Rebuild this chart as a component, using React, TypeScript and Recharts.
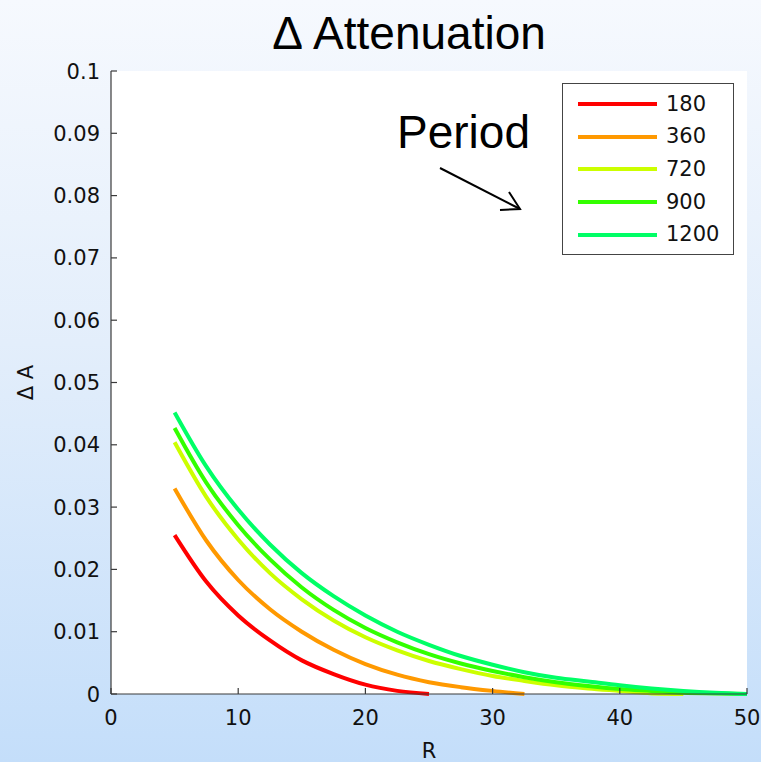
import React from "react";
import { LineChart, Line, XAxis, YAxis, Legend } from "recharts";

// radius values shared by every period
const rValues = [5, 7.5, 10, 12.5, 15, 17.5, 20, 22.5, 25, 27.5, 30, 32.5, 35, 37.5, 40, 42.5, 45, 47.5, 50];

// delta attenuation per period
const da180 = [0.0255, 0.018, 0.0126, 0.0086, 0.0054, 0.0032, 0.0015, 0.0005, 0];
const da360 = [0.033, 0.0246, 0.0183, 0.0136, 0.01, 0.0071, 0.0048, 0.0031, 0.0019, 0.0011, 0.0005, 0];
const da720 = [0.0404, 0.0316, 0.0248, 0.0194, 0.0152, 0.0118, 0.0091, 0.007, 0.0053, 0.004, 0.0029, 0.0021, 0.0014, 0.0009, 0.0005, 0.0001, 0];
const da900 = [0.0427, 0.0339, 0.0271, 0.0216, 0.0171, 0.0135, 0.0106, 0.0083, 0.0064, 0.0049, 0.0037, 0.0027, 0.0019, 0.0013, 0.0008, 0.0005, 0.0002, 0.0001, 0];
const da1200 = [0.0452, 0.0365, 0.0296, 0.024, 0.0194, 0.0157, 0.0126, 0.01, 0.0079, 0.0061, 0.0047, 0.0035, 0.0026, 0.002, 0.0014, 0.0009, 0.0005, 0.0002, 0];

const periods = ["180", "360", "720", "900", "1200"];
const COLORS = ["#ff0000", "#ff9900", "#ccff00", "#33ff00", "#00ff66"];
const seriesValues = [da180, da360, da720, da900, da1200];

const xTicks = [0, 10, 20, 30, 40, 50];
const yTicks = [0, 0.01, 0.02, 0.03, 0.04, 0.05, 0.06, 0.07, 0.08, 0.09, 0.1];

const series = periods.map((name, i) => ({
    name,
    color: COLORS[i],
    data: seriesValues[i].map((a, j) => ({ r: rValues[j], a })),
}));

const FONT = "DejaVu Sans";
const INK = "#3a3a3a";
const TL = 6; // tick length, pointing into the plot
const frame = { stroke: INK, strokeWidth: 1.2 };

// ticks: labels outside, short marks inside the box
function LeftTick({ x, y, payload }: any) {
    return (
        <g>
            <text x={x} y={y} dy="0.36em" textAnchor="end" fontFamily={FONT} fontSize={21} fill="#111">
                {payload.value}
            </text>
            <line x1={x + 11} x2={x + 11 + TL} y1={y} y2={y} stroke={INK} strokeWidth={1.2} />
        </g>
    );
}

function BottomTick({ x, y, payload }: any) {
    return (
        <g>
            <text x={x} y={y} dy="0.76em" textAnchor="middle" fontFamily={FONT} fontSize={21} fill="#111">
                {payload.value}
            </text>
            <line x1={x} x2={x} y1={y - 15} y2={y - 15 - TL} stroke={INK} strokeWidth={1.2} />
        </g>
    );
}

function TopTick({ x, y }: any) {
    return <line x1={x} x2={x} y1={y} y2={y + TL} stroke={INK} strokeWidth={1.2} />;
}

function RightTick({ x, y }: any) {
    return <line x1={x} x2={x - TL} y1={y} y2={y} stroke={INK} strokeWidth={1.2} />;
}

function LegendBox() {
    return (
        <div
            style={{
                width: 172,
                height: 172,
                boxSizing: "border-box",
                border: "1.2px solid #444",
                background: "#fff",
                paddingTop: 4,
            }}
        >
            {series.map((s) => (
                <div key={s.name} style={{ height: 32.6, display: "flex", alignItems: "center" }}>
                    <svg width={88} height={8} style={{ marginLeft: 15 }}>
                        <line x1={0} x2={79} y1={4} y2={4} stroke={s.color} strokeWidth={4} />
                    </svg>
                    <span style={{ fontFamily: FONT, fontSize: 21, color: "#111", lineHeight: 1 }}>{s.name}</span>
                </div>
            ))}
        </div>
    );
}

export default function App() {
    return (
        <div
            style={{
                position: "absolute",
                left: 0,
                top: 0,
                width: 761,
                height: 762,
                background: "linear-gradient(to bottom, #f6f9fe 0%, #e3eefb 45%, #c4defa 100%)",
            }}
        >
            {/* white plot background */}
            <div style={{ position: "absolute", left: 111, top: 71, width: 636, height: 623, background: "#fff" }} />
            <LineChart
                width={761}
                height={762}
                margin={{ top: 71, right: 14, bottom: 0, left: 0 }}
                style={{ position: "absolute", left: 0, top: 0 }}
            >
                <XAxis
                    xAxisId="b"
                    type="number"
                    dataKey="r"
                    domain={[0, 50]}
                    ticks={xTicks}
                    height={68}
                    tick={<BottomTick />}
                    tickSize={0}
                    tickMargin={15}
                    axisLine={frame}
                    tickLine={false}
                    allowDuplicatedCategory={false}
                    label={{ value: "R", position: "insideBottom", offset: 4, style: { fontFamily: FONT, fontSize: 21, fill: "#111" } }}
                />
                <XAxis
                    xAxisId="t"
                    orientation="top"
                    type="number"
                    domain={[0, 50]}
                    ticks={xTicks}
                    height={0}
                    tick={<TopTick />}
                    tickSize={0}
                    tickMargin={0}
                    axisLine={frame}
                    tickLine={false}
                />
                <YAxis
                    yAxisId="l"
                    type="number"
                    domain={[0, 0.1]}
                    ticks={yTicks}
                    width={111}
                    tick={<LeftTick />}
                    tickSize={0}
                    tickMargin={11}
                    axisLine={frame}
                    tickLine={false}
                    label={{ value: "Δ A", angle: -90, position: "center", dx: -30, style: { fontFamily: FONT, fontSize: 21, fill: "#111" } }}
                />
                <YAxis
                    yAxisId="r"
                    orientation="right"
                    type="number"
                    domain={[0, 0.1]}
                    ticks={yTicks}
                    width={0}
                    tick={<RightTick />}
                    tickSize={0}
                    tickMargin={0}
                    axisLine={frame}
                    tickLine={false}
                />
                <Legend
                    layout="vertical"
                    align="center"
                    verticalAlign="middle"
                    content={<LegendBox />}
                    wrapperStyle={{ position: "absolute", left: 562, top: 83, width: 172, height: 172 }}
                />
                {series.map((s) => (
                    <Line
                        key={s.name}
                        xAxisId="b"
                        yAxisId="l"
                        data={s.data}
                        dataKey="a"
                        name={s.name}
                        type="monotone"
                        stroke={s.color}
                        strokeWidth={4}
                        dot={false}
                        activeDot={false}
                        isAnimationActive={false}
                    />
                ))}
            </LineChart>
            <svg width={761} height={762} style={{ position: "absolute", left: 0, top: 0, pointerEvents: "none" }}>
                <text x={409} y={49} textAnchor="middle" fontFamily="Liberation Sans" fontSize={46} fill="#000">
                    Δ Attenuation
                </text>
                <text x={397} y={148} fontFamily="Liberation Sans" fontSize={46} fill="#000">
                    Period
                </text>
                <line x1={440} y1={168} x2={520} y2={209} stroke="#000" strokeWidth={2} />
                <polyline points="500,210 520,209 509,192" fill="none" stroke="#000" strokeWidth={2} />
            </svg>
        </div>
    );
}
